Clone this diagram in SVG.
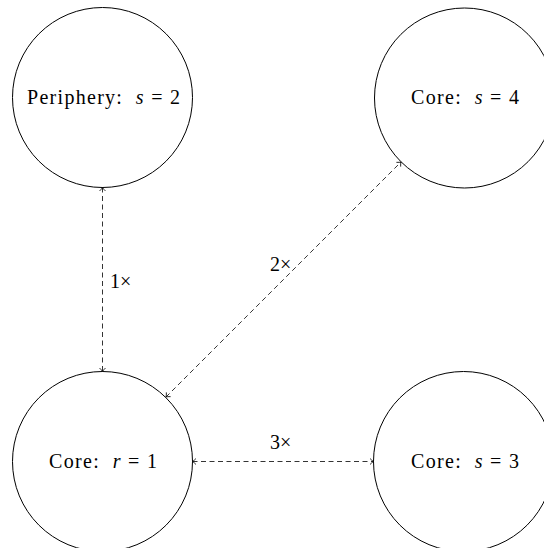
<svg xmlns="http://www.w3.org/2000/svg" width="544" height="548" viewBox="0 0 544 548">
<defs>
<style>
.node{fill:#fff;stroke:#000;stroke-width:1}
.lbl{font-family:"Liberation Serif","DejaVu Serif",serif;font-size:20px;fill:#000;white-space:pre}
.m{font-style:italic}
.edge{fill:none;stroke:#000;stroke-width:0.8;stroke-dasharray:5 3.5}
</style>
<marker id="ah" viewBox="-5 -4 6 8" markerWidth="6" markerHeight="8" refX="0" refY="0" orient="auto-start-reverse" markerUnits="userSpaceOnUse">
<path d="M-3.5,-3 Q-1.5,-0.8 0,0 Q-1.5,0.8 -3.5,3" fill="none" stroke="#000" stroke-width="0.8"/>
</marker>
</defs>
<rect width="544" height="548" fill="#fff"/>
<g id="n-periphery">
<circle class="node" cx="102.5" cy="97.5" r="90"/>
<text class="lbl" x="27" y="104" textLength="153" lengthAdjust="spacing" xml:space="preserve">Periphery:  <tspan class="m">s</tspan> = 2</text>
</g>
<g id="n-core4">
<circle class="node" cx="464.5" cy="98" r="90"/>
<text class="lbl" x="411" y="104" textLength="108" lengthAdjust="spacing" xml:space="preserve">Core:  <tspan class="m">s</tspan> = 4</text>
</g>
<g id="n-core1">
<circle class="node" cx="102.5" cy="461.5" r="90"/>
<text class="lbl" x="49" y="468" textLength="108" lengthAdjust="spacing" xml:space="preserve">Core:  <tspan class="m">r</tspan> = 1</text>
</g>
<g id="n-core3">
<circle class="node" cx="463.5" cy="461.5" r="90"/>
<text class="lbl" x="411" y="468" textLength="108" lengthAdjust="spacing" xml:space="preserve">Core:  <tspan class="m">s</tspan> = 3</text>
</g>
<g id="edges">
<line class="edge" x1="102.5" y1="187.5" x2="102.5" y2="371.5" marker-start="url(#ah)" marker-end="url(#ah)"/>
<text class="lbl" x="110" y="288">1×</text>
<line class="edge" x1="166" y1="397" x2="401" y2="162" marker-start="url(#ah)" marker-end="url(#ah)"/>
<text class="lbl" x="270" y="271">2×</text>
<line class="edge" x1="192.5" y1="461.5" x2="373.5" y2="461.5" marker-start="url(#ah)" marker-end="url(#ah)"/>
<text class="lbl" x="270" y="449">3×</text>
</g>
</svg>
